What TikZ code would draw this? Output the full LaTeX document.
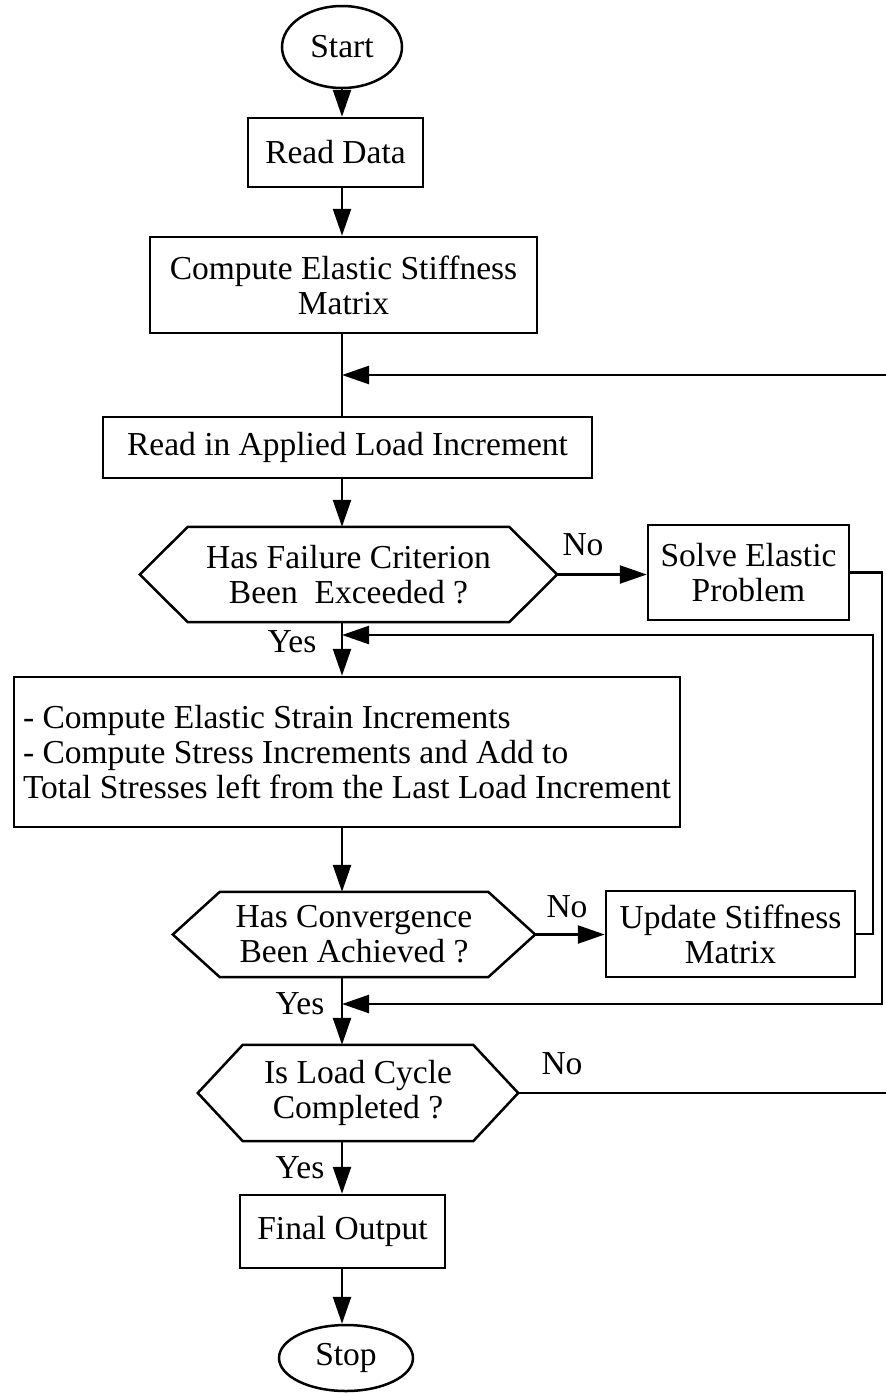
\documentclass[tikz,border=0pt]{standalone}
\usepackage{fontspec}
\setmainfont{Liberation Serif}
\usetikzlibrary{arrows.meta,shapes.geometric,calc}
\newcommand\fs{\fontsize{33.5}{35}\selectfont}
\begin{document}
\begin{tikzpicture}[x=1pt,y=-1pt,
  lw/.style={line width=2.5pt},
  box/.style={draw,lw,rectangle,inner sep=0pt,align=center,font=\fs},
  term/.style={draw,lw,ellipse,inner sep=0pt,font=\fs},
  dec/.style={inner sep=0pt,align=center,font=\fs},
  hex/.style={lw,line join=miter},
  conn/.style={lw},
  arr/.style={lw,-{Triangle[length=27pt,width=18pt]}},
  lbl/.style={font=\fs,inner sep=0pt}]
\useasboundingbox (0,0) rectangle (886,1393);
\coordinate (ax) at (342,0);
% nodes
\node[term,minimum width=120,minimum height=82] (start) at (342,47) {Start};
\node[box,minimum width=175,minimum height=69] (read) at (335.5,152.5) {Read Data};
\node[box,minimum width=387,minimum height=96] (elastic) at (343.5,285) {Compute Elastic Stiffness\\Matrix};
\node[box,minimum width=489,minimum height=61] (load) at (347.5,447.5) {Read in Applied Load Increment};
\node[dec,minimum width=417,minimum height=95] (dec1) at (348.5,574.5) {Has Failure Criterion\\Been\ \ Exceeded ?};
\node[box,minimum width=201,minimum height=95] (solve) at (748.5,572.5) {Solve Elastic\\Problem};
\node[box,minimum width=666,minimum height=150,align=left] (comp) at (347,752) {- Compute Elastic Strain Increments\\- Compute Stress Increments and Add to\\Total Stresses left from the Last Load Increment};
\node[dec,minimum width=362,minimum height=85] (dec2) at (354,934.5) {Has Convergence\\Been Achieved ?};
\node[box,minimum width=249,minimum height=86] (update) at (730.5,934) {Update Stiffness\\Matrix};
\node[dec,minimum width=320,minimum height=96] (dec3) at (358,1093) {Is Load Cycle\\Completed ?};
\node[box,minimum width=205,minimum height=73] (final) at (342.5,1231.5) {Final Output};
\node[term,minimum width=134,minimum height=66] (stop) at (346,1358) {Stop};
% hexagons
\foreach \d/\t in {dec1/48,dec2/47,dec3/45}{
  \draw[hex] (\d.west) -- ([xshift=\t pt]\d.north west) -- ([xshift=-\t pt]\d.north east) -- (\d.east)
    -- ([xshift=-\t pt]\d.south east) -- ([xshift=\t pt]\d.south west) -- cycle;
}
% labels
\node[lbl] (no1) at (583,545) {No};
\node[lbl] (yes1) at (292,642) {Yes};
\node[lbl] (no2) at (567,907) {No};
\node[lbl] (yes2) at (300,1004) {Yes};
\node[lbl] (no3) at (562,1064) {No};
\node[lbl] (yes3) at (300,1168) {Yes};
% junctions
\coordinate (j1) at (342,375);
\coordinate (j2) at (342,635);
\coordinate (j3) at (342,1004);
\coordinate (r1) at (882,0);
\coordinate (r2) at (873,0);
\coordinate (r3) at (889,0);
% vertical flow
\draw[arr] (start.south -| ax) -- (read.north -| ax);
\draw[arr] (read.south -| ax) -- (elastic.north -| ax);
\draw[conn] (elastic.south -| ax) -- (load.north -| ax);
\draw[arr] (load.south -| ax) -- (dec1.north -| ax);
\draw[arr] (dec1.south -| ax) -- (comp.north -| ax);
\draw[arr] (comp.south -| ax) -- (dec2.north -| ax);
\draw[arr] (dec2.south -| ax) -- (dec3.north -| ax);
\draw[arr] (dec3.south -| ax) -- (final.north -| ax);
\draw[arr] (final.south -| ax) -- (stop.north -| ax);
% side branches
\draw[arr] (dec1.east) -- (solve.west |- dec1.east);
\draw[arr] (dec2.east) -- (update.west |- dec2.east);
% loops
\draw[arr] (solve.east) -| (r1 |- j3) -- (j3);
\draw[arr] (update.east) -| (r2 |- j2) -- (j2);
\draw[arr] (dec3.east) -| (r3 |- j1) -- (j1);
\end{tikzpicture}
\end{document}
